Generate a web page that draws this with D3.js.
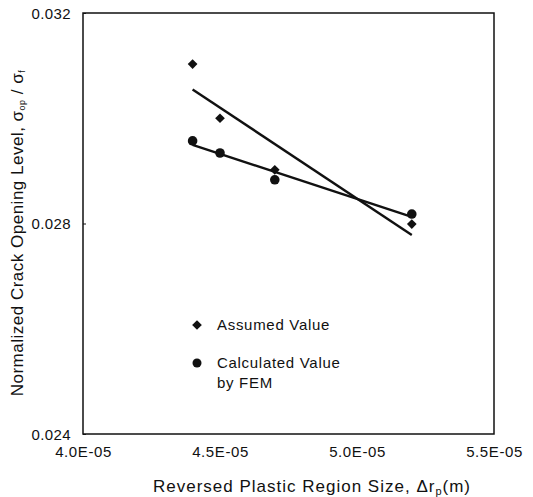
<!DOCTYPE html>
<html>
<head>
<meta charset="utf-8">
<script src="https://cdn.jsdelivr.net/npm/d3@7"></script>
<style>
  body { margin: 0; background: #fff; }
  text { font-family: "Liberation Sans", Arial, sans-serif; fill: #111; }
</style>
</head>
<body>
<div id="chart"></div>
<script>
// values
const xTicks = [4.0e-5, 4.5e-5, 5.0e-5, 5.5e-5];
const yTicks = [0.024, 0.028, 0.032];
const assumedX = [4.4e-5, 4.5e-5, 4.7e-5, 5.2e-5];
const assumedY = [0.03103, 0.0300, 0.02902, 0.02799];
const femX = [4.4e-5, 4.5e-5, 4.7e-5, 5.2e-5];
const femY = [0.02957, 0.02934, 0.02883, 0.02818];

const width = 533, height = 497;
const margin = {top: 13, right: 39, bottom: 63, left: 83};

const svg = d3.select("#chart").append("svg")
    .attr("width", width)
    .attr("height", height);

const x = d3.scaleLinear()
    .domain([4.0e-5, 5.5e-5])
    .range([margin.left, width - margin.right]);

const y = d3.scaleLinear()
    .domain([0.024, 0.032])
    .range([height - margin.bottom, margin.top]);

// plot frame
svg.append("rect")
    .attr("x", x(4.0e-5))
    .attr("y", y(0.032))
    .attr("width", x(5.5e-5) - x(4.0e-5))
    .attr("height", y(0.024) - y(0.032))
    .attr("fill", "none")
    .attr("stroke", "#111")
    .attr("stroke-width", 1.5);

// y axis (small inside ticks, labels on the left)
const yAxis = d3.axisLeft(y)
    .tickValues(yTicks)
    .tickSize(-3)
    .tickPadding(12)
    .tickFormat(d3.format(".3f"));

const gy = svg.append("g")
    .attr("transform", `translate(${x(4.0e-5)},0)`)
    .call(yAxis);
gy.select(".domain").remove();
gy.selectAll("line").attr("stroke", "#111");
gy.selectAll("text")
    .style("font-size", "15px")
    .style("letter-spacing", "0.4px")
    .attr("dy", "0.35em");

// x axis, labels only
const fmtX = d => d.toExponential(1).toUpperCase().replace("E-5", "E-05");
const xAxis = d3.axisBottom(x)
    .tickValues(xTicks)
    .tickSize(0)
    .tickPadding(12)
    .tickFormat(fmtX);

const gx = svg.append("g")
    .attr("transform", `translate(0,${y(0.024)})`)
    .call(xAxis);
gx.select(".domain").remove();
gx.selectAll("text")
    .style("font-size", "15px")
    .style("letter-spacing", "0.6px");

// least-squares fit lines
function fit(xs, ys) {
    const mx = d3.mean(xs), my = d3.mean(ys);
    const sxy = d3.sum(xs, (v, i) => (v - mx) * (ys[i] - my));
    const sxx = d3.sum(xs, v => (v - mx) * (v - mx));
    const b = sxy / sxx;
    const a = my - b * mx;
    const x0 = d3.min(xs), x1 = d3.max(xs);
    return [[x0, a + b * x0], [x1, a + b * x1]];
}

const line = d3.line().x(d => x(d[0])).y(d => y(d[1]));

[[assumedX, assumedY], [femX, femY]].forEach(([xs, ys]) => {
    svg.append("path")
        .attr("d", line(fit(xs, ys)))
        .attr("stroke", "#111")
        .attr("stroke-width", 2.4)
        .attr("fill", "none");
});

const diamond = d3.symbol().type(d3.symbolDiamond2).size(60);

svg.selectAll(".assumed")
    .data(assumedX.map((v, i) => [v, assumedY[i]]))
    .enter().append("path")
    .attr("class", "assumed")
    .attr("d", diamond)
    .attr("transform", d => `translate(${x(d[0])},${y(d[1])})`)
    .attr("fill", "#111");

svg.selectAll(".fem")
    .data(femX.map((v, i) => [v, femY[i]]))
    .enter().append("circle")
    .attr("class", "fem")
    .attr("cx", d => x(d[0]))
    .attr("cy", d => y(d[1]))
    .attr("r", 4.8)
    .attr("fill", "#111");

// legend
const lg = svg.append("g").attr("transform", "translate(197,325)");
lg.append("path")
    .attr("d", diamond)
    .attr("fill", "#111");
lg.append("circle")
    .attr("cx", 0).attr("cy", 38).attr("r", 4.5)
    .attr("fill", "#111");
const legendText = [["Assumed Value", 0], ["Calculated Value", 38], ["by FEM", 58]];
lg.selectAll("text.lt")
    .data(legendText)
    .enter().append("text")
    .attr("class", "lt")
    .attr("x", 20)
    .attr("y", d => d[1])
    .attr("dy", "0.35em")
    .style("font-size", "15px")
    .style("letter-spacing", "0.7px")
    .text(d => d[0]);

// axis titles
const xt = svg.append("text")
    .attr("x", 153)
    .attr("y", 492)
    .style("font-size", "17px")
    .style("letter-spacing", "1px");
xt.append("tspan").text("Reversed Plastic Region Size, \u0394r");
xt.append("tspan").attr("dy", 3).style("font-size", "11px").text("p");
xt.append("tspan").attr("dy", -3).text("(m)");

const yt = svg.append("text")
    .attr("transform", "translate(23,233) rotate(-90)")
    .attr("text-anchor", "middle")
    .style("font-size", "17px")
    .style("letter-spacing", "0.5px");
yt.append("tspan").text("Normalized Crack Opening Level,  \u03c3");
yt.append("tspan").attr("dy", 2).style("font-size", "9px").text("op");
yt.append("tspan").attr("dy", -2).text(" / \u03c3");
yt.append("tspan").attr("dy", 2).style("font-size", "9px").text("f");
</script>
</body>
</html>
